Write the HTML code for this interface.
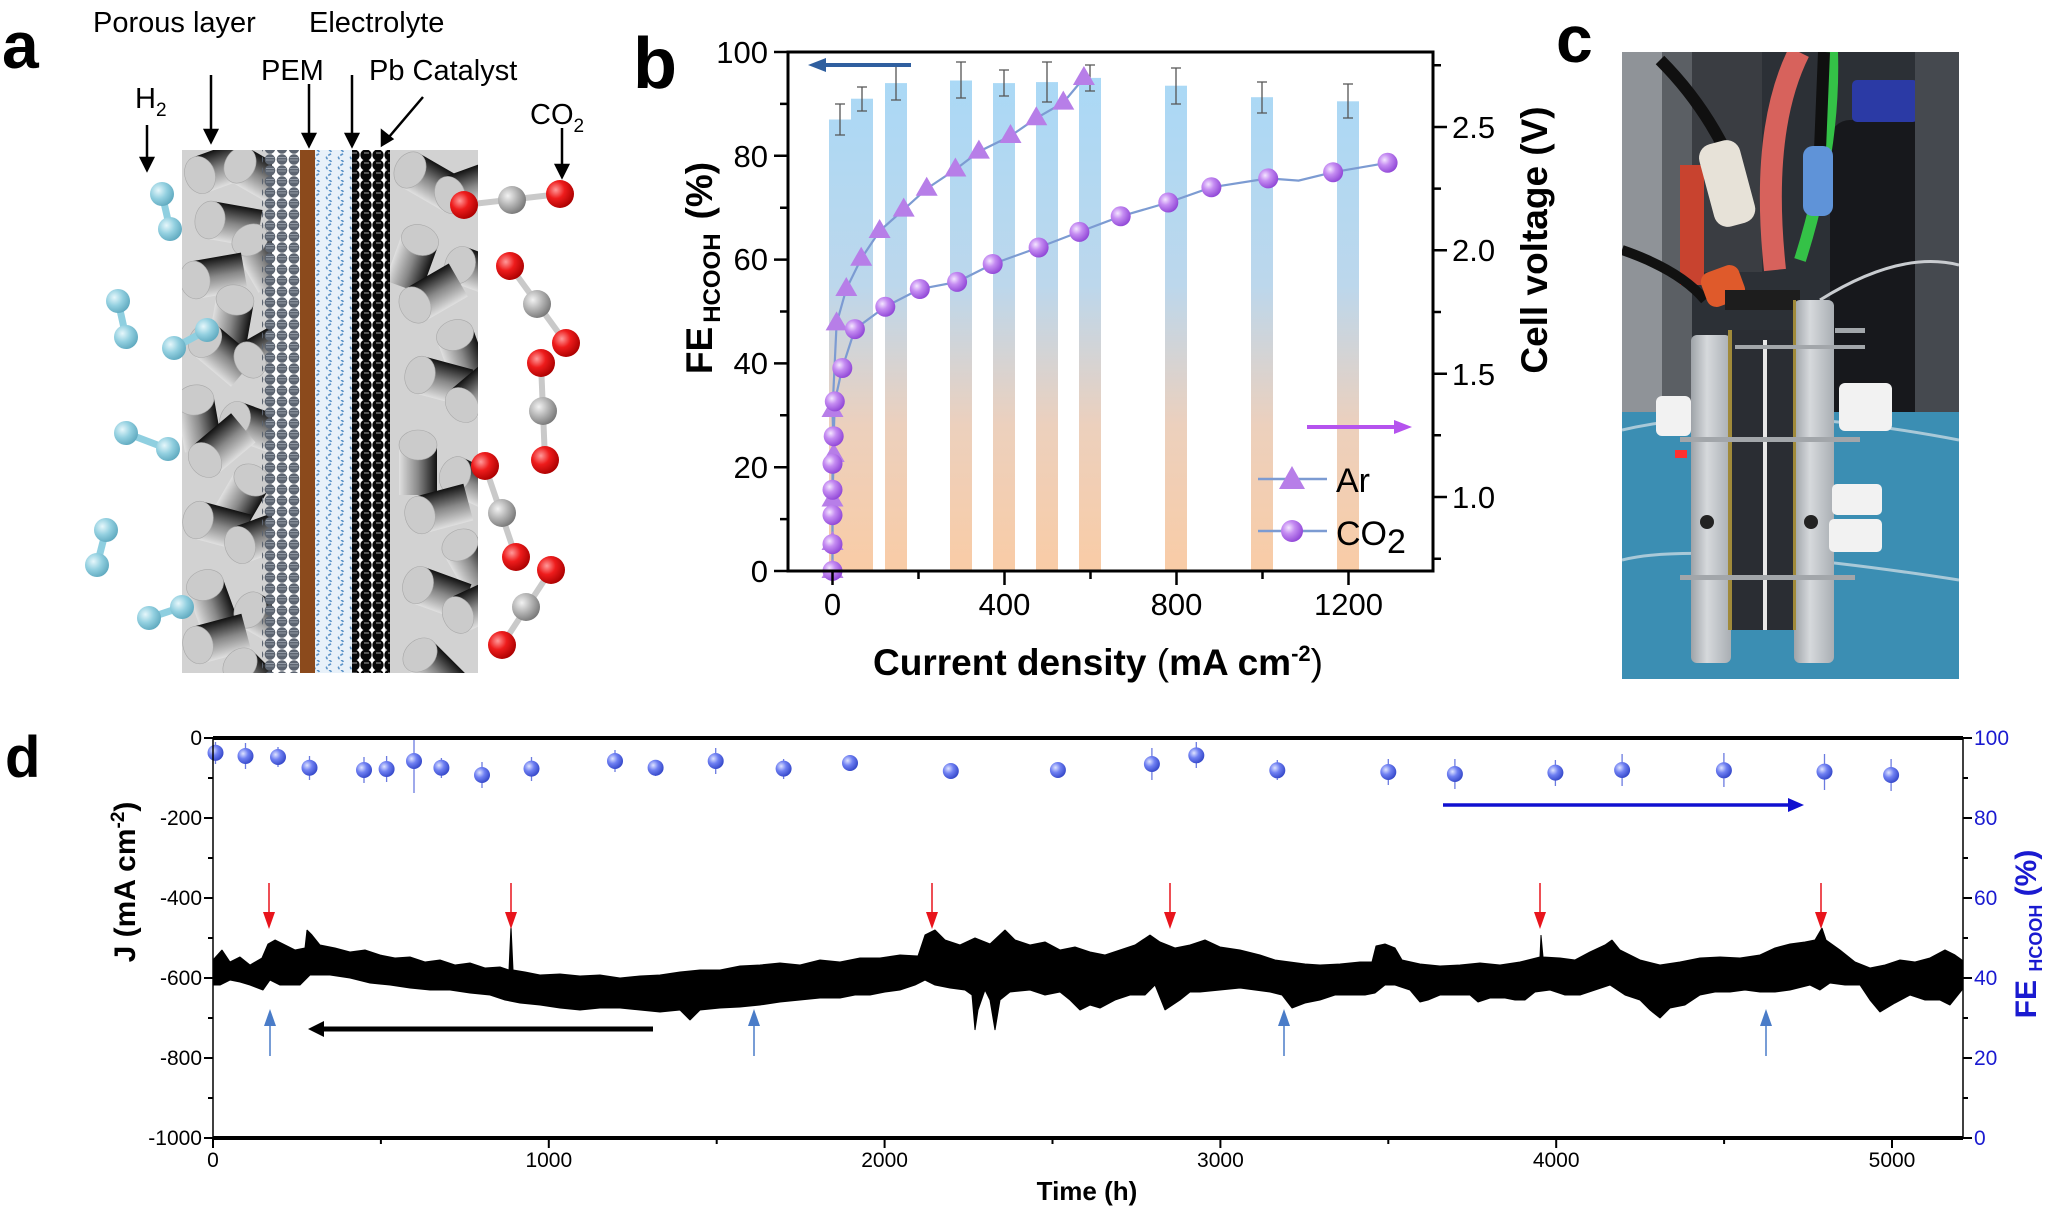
<!DOCTYPE html>
<html><head><meta charset="utf-8">
<style>
html,body{margin:0;padding:0;background:#fff;}
svg{display:block;font-family:"Liberation Sans",Arial,sans-serif;}
</style></head>
<body>
<svg xmlns="http://www.w3.org/2000/svg" xmlns:xlink="http://www.w3.org/1999/xlink" width="2048" height="1217" viewBox="0 0 2048 1217">
<defs>
 <linearGradient id="barg" gradientUnits="userSpaceOnUse" x1="0" y1="52" x2="0" y2="571">
  <stop offset="0" stop-color="#a8d9f7"/><stop offset="0.45" stop-color="#bcd7ec"/>
  <stop offset="0.72" stop-color="#ecd0bd"/><stop offset="1" stop-color="#f9cca6"/>
 </linearGradient>
 <radialGradient id="purp" cx="0.35" cy="0.35" r="0.7">
  <stop offset="0" stop-color="#f4e6ff"/><stop offset="0.4" stop-color="#c58cf2"/><stop offset="1" stop-color="#8f45d6"/>
 </radialGradient>
 <radialGradient id="bluesph" cx="0.35" cy="0.35" r="0.7">
  <stop offset="0" stop-color="#dfe4ff"/><stop offset="0.45" stop-color="#6f80f2"/><stop offset="1" stop-color="#3346c8"/>
 </radialGradient>
 <radialGradient id="h2" cx="0.35" cy="0.35" r="0.7">
  <stop offset="0" stop-color="#e6f7fb"/><stop offset="0.5" stop-color="#93d0e0"/><stop offset="1" stop-color="#5fa9bf"/>
 </radialGradient>
 <radialGradient id="ored" cx="0.35" cy="0.35" r="0.7">
  <stop offset="0" stop-color="#ff9a9a"/><stop offset="0.45" stop-color="#ee1c1c"/><stop offset="1" stop-color="#a00"/>
 </radialGradient>
 <radialGradient id="cgray" cx="0.35" cy="0.35" r="0.7">
  <stop offset="0" stop-color="#f2f2f2"/><stop offset="0.5" stop-color="#b4b4b4"/><stop offset="1" stop-color="#777"/>
 </radialGradient>
 <linearGradient id="cyl" x1="0" y1="0" x2="0" y2="1">
  <stop offset="0" stop-color="#111"/><stop offset="0.5" stop-color="#888"/><stop offset="1" stop-color="#e0e0e0"/>
 </linearGradient>
 <linearGradient id="plate" x1="0" y1="0" x2="1" y2="0">
  <stop offset="0" stop-color="#9ea3a8"/><stop offset="0.4" stop-color="#d6d9dc"/><stop offset="1" stop-color="#a9aeb3"/>
 </linearGradient>
 <pattern id="gdots" width="12" height="11" patternUnits="userSpaceOnUse">
  <circle cx="6" cy="5.5" r="5.3" fill="#5c6470"/><line x1="2" y1="6" x2="10" y2="6" stroke="#a0a8b2" stroke-width="0.8"/><line x1="2" y1="3.5" x2="10" y2="3.5" stroke="#a0a8b2" stroke-width="0.8"/>
 </pattern>
 <pattern id="bdots" width="12" height="10" patternUnits="userSpaceOnUse">
  <circle cx="6" cy="5" r="5.6" fill="#080808"/><line x1="4" y1="3" x2="9" y2="3" stroke="#ccc" stroke-width="0.8"/>
 </pattern>
 <pattern id="waves" width="12" height="10" patternUnits="userSpaceOnUse">
  <rect width="12" height="10" fill="#e8f1f9"/>
  <path d="M5,0 q5,2.5 0,5 q-5,2.5 0,5" fill="none" stroke="#5b93c8" stroke-width="1.6" stroke-dasharray="3,2"/>
 </pattern>
 <g id="cy">
  <rect x="0" y="-19" width="50" height="38" fill="url(#cyl)"/>
  <ellipse cx="0" cy="0" rx="15" ry="19" fill="#cbcbcb" stroke="#a8a8a8" stroke-width="0.6"/>
 </g>
 <clipPath id="photoclip"><rect x="1622" y="52" width="337" height="627"/></clipPath>
 <clipPath id="lclip"><rect x="182" y="150" width="90" height="523"/></clipPath>
 <clipPath id="rclip"><rect x="385" y="150" width="93" height="523"/></clipPath>
</defs>

<!-- ============ PANEL A ============ -->
<text x="2" y="68" font-size="66" font-weight="bold">a</text>
<g font-size="29">
 <text x="93" y="32">Porous layer</text>
 <text x="309" y="32">Electrolyte</text>
 <text x="261" y="80">PEM</text>
 <text x="369" y="80">Pb Catalyst</text>
 <text x="135" y="108">H<tspan font-size="19" dy="8">2</tspan></text>
 <text x="530" y="124">CO<tspan font-size="19" dy="8">2</tspan></text>
</g>
<g stroke="#000" stroke-width="2.5" fill="#000">
 <line x1="147" y1="125" x2="147" y2="162"/><path d="M141,158 L153,158 L147,170 z"/>
 <line x1="211" y1="75" x2="211" y2="134"/><path d="M205,130 L217,130 L211,142 z"/>
 <line x1="309" y1="84" x2="309" y2="138"/><path d="M303,134 L315,134 L309,146 z"/>
 <line x1="352" y1="75" x2="352" y2="138"/><path d="M346,134 L358,134 L352,146 z"/>
 <line x1="423" y1="97" x2="389" y2="137"/><path d="M382,131 L392,139 L382,145 z"/>
 <line x1="562" y1="128" x2="562" y2="169"/><path d="M556,165 L568,165 L562,177 z"/>
</g>
<g clip-path="url(#lclip)">
 <rect x="182" y="150" width="90" height="523" fill="#d2d2d2"/>
 <use xlink:href="#cy" transform="translate(200,175) rotate(-20)"/>
 <use xlink:href="#cy" transform="translate(240,165) rotate(30)"/>
 <use xlink:href="#cy" transform="translate(210,220) rotate(10)"/>
 <use xlink:href="#cy" transform="translate(250,240) rotate(60)"/>
 <use xlink:href="#cy" transform="translate(195,280) rotate(-10)"/>
 <use xlink:href="#cy" transform="translate(235,300) rotate(100)"/>
 <use xlink:href="#cy" transform="translate(205,340) rotate(40)"/>
 <use xlink:href="#cy" transform="translate(250,360) rotate(-30)"/>
 <use xlink:href="#cy" transform="translate(195,400) rotate(80)"/>
 <use xlink:href="#cy" transform="translate(235,420) rotate(20)"/>
 <use xlink:href="#cy" transform="translate(205,460) rotate(-40)"/>
 <use xlink:href="#cy" transform="translate(252,480) rotate(120)"/>
 <use xlink:href="#cy" transform="translate(198,520) rotate(15)"/>
 <use xlink:href="#cy" transform="translate(240,545) rotate(-20)"/>
 <use xlink:href="#cy" transform="translate(205,585) rotate(70)"/>
 <use xlink:href="#cy" transform="translate(250,610) rotate(30)"/>
 <use xlink:href="#cy" transform="translate(198,645) rotate(-15)"/>
 <use xlink:href="#cy" transform="translate(240,665) rotate(45)"/>
</g>
<rect x="262" y="150" width="38" height="523" fill="url(#gdots)"/>
<rect x="300" y="150" width="15" height="523" fill="#8b4a1c"/>
<rect x="315" y="150" width="37" height="523" fill="url(#waves)"/>
<g clip-path="url(#rclip)">
 <rect x="385" y="150" width="93" height="523" fill="#d2d2d2"/>
 <use xlink:href="#cy" transform="translate(410,170) rotate(30)"/>
 <use xlink:href="#cy" transform="translate(450,195) rotate(-20)"/>
 <use xlink:href="#cy" transform="translate(420,240) rotate(110)"/>
 <use xlink:href="#cy" transform="translate(460,265) rotate(20)"/>
 <use xlink:href="#cy" transform="translate(415,305) rotate(-30)"/>
 <use xlink:href="#cy" transform="translate(455,335) rotate(70)"/>
 <use xlink:href="#cy" transform="translate(420,375) rotate(15)"/>
 <use xlink:href="#cy" transform="translate(462,405) rotate(-40)"/>
 <use xlink:href="#cy" transform="translate(418,445) rotate(90)"/>
 <use xlink:href="#cy" transform="translate(455,475) rotate(25)"/>
 <use xlink:href="#cy" transform="translate(420,515) rotate(-15)"/>
 <use xlink:href="#cy" transform="translate(460,545) rotate(60)"/>
 <use xlink:href="#cy" transform="translate(418,585) rotate(20)"/>
 <use xlink:href="#cy" transform="translate(458,615) rotate(-25)"/>
 <use xlink:href="#cy" transform="translate(420,655) rotate(45)"/>
</g>
<rect x="352" y="150" width="38" height="523" fill="url(#bdots)"/>
<g>
 <g stroke="#8fcfe0" stroke-width="7">
  <line x1="162" y1="194" x2="170" y2="229"/><line x1="118" y1="301" x2="126" y2="337"/><line x1="174" y1="348" x2="207" y2="330"/>
  <line x1="126" y1="433" x2="168" y2="449"/><line x1="106" y1="530" x2="97" y2="565"/><line x1="149" y1="618" x2="182" y2="607"/>
 </g>
 <g fill="url(#h2)">
  <circle cx="162" cy="194" r="12"/><circle cx="170" cy="229" r="12"/><circle cx="118" cy="301" r="12"/><circle cx="126" cy="337" r="12"/>
  <circle cx="174" cy="348" r="12"/><circle cx="207" cy="330" r="12"/><circle cx="126" cy="433" r="12"/><circle cx="168" cy="449" r="12"/>
  <circle cx="106" cy="530" r="12"/><circle cx="97" cy="565" r="12"/><circle cx="149" cy="618" r="12"/><circle cx="182" cy="607" r="12"/>
 </g>
 <g stroke="#c9c9c9" stroke-width="6">
  <line x1="464" y1="205" x2="560" y2="194"/><line x1="510" y1="266" x2="566" y2="343"/><line x1="541" y1="363" x2="545" y2="460"/>
  <line x1="485" y1="466" x2="516" y2="557"/><line x1="551" y1="570" x2="502" y2="645"/>
 </g>
 <g fill="url(#ored)">
  <circle cx="464" cy="205" r="14"/><circle cx="560" cy="194" r="14"/><circle cx="510" cy="266" r="14"/><circle cx="566" cy="343" r="14"/>
  <circle cx="541" cy="363" r="14"/><circle cx="545" cy="460" r="14"/><circle cx="485" cy="466" r="14"/><circle cx="516" cy="557" r="14"/>
  <circle cx="551" cy="570" r="14"/><circle cx="502" cy="645" r="14"/>
 </g>
 <g fill="url(#cgray)">
  <circle cx="512" cy="200" r="14"/><circle cx="537" cy="304" r="14"/><circle cx="543" cy="411" r="14"/><circle cx="502" cy="513" r="14"/><circle cx="526" cy="607" r="14"/>
 </g>
</g>

<!-- ============ PANEL B ============ -->
<text x="633" y="88" font-size="72" font-weight="bold">b</text>
<g fill="url(#barg)">
 <rect x="829" y="119.5" width="22" height="451.5"/>
 <rect x="851" y="98.7" width="22" height="472.3"/>
 <rect x="885" y="83.1" width="22" height="487.9"/>
 <rect x="950" y="80.5" width="22" height="490.5"/>
 <rect x="993" y="83.1" width="22" height="487.9"/>
 <rect x="1036" y="82.1" width="22" height="488.9"/>
 <rect x="1079" y="77.9" width="22" height="493.1"/>
 <rect x="1165" y="85.7" width="22" height="485.3"/>
 <rect x="1251" y="97.2" width="22" height="473.8"/>
 <rect x="1337" y="101.3" width="22" height="469.7"/>
</g>
<g stroke="#555" stroke-width="1.3" fill="none">
 <path d="M840,104 V135 M835,104 h10 M835,135 h10"/>
 <path d="M862,87 V111 M857,87 h10 M857,111 h10"/>
 <path d="M896,66 V100 M891,66 h10 M891,100 h10"/>
 <path d="M961,62 V98 M956,62 h10 M956,98 h10"/>
 <path d="M1004,70 V96 M999,70 h10 M999,96 h10"/>
 <path d="M1047,62 V102 M1042,62 h10 M1042,102 h10"/>
 <path d="M1090,65 V91 M1085,65 h10 M1085,91 h10"/>
 <path d="M1176,68 V104 M1171,68 h10 M1171,104 h10"/>
 <path d="M1262,82 V113 M1257,82 h10 M1257,113 h10"/>
 <path d="M1348,84 V118 M1343,84 h10 M1343,118 h10"/>
</g>
<g fill="none" stroke="#7c9bd2" stroke-width="2.2">
 <path d="M832.5,570.9 L832.5,543.2 L832.5,499.5 L833.7,454.9 L832.5,410.3 L836.6,323.4 L846.3,289 L861.2,258.7 L879.6,231 L903.7,209.6 L926.7,188.7 L955.4,169.5 L978.9,151.6 L1010.5,136 L1036.3,118.2 L1063.3,102.6 L1083.9,78"/>
 <path d="M832.5,570.9 L832.5,544.1 L832.5,515.1 L832.5,489.7 L832.5,463.8 L833.7,436.2 L834.8,401.4 L842.3,368 L854.9,329.1 L885.3,306.8 L919.8,289 L957.1,281.9 L992.7,264 L1038.6,247.5 L1079.4,231.9 L1120.7,216.3 L1168.3,202.5 L1211.4,187.3 L1268.2,178.4 L1298.6,180.6 L1333.1,172.2 L1387.6,162.8"/>
</g>
<g fill="#b77ee8">
 <path d="M832.5,559 l11,19 h-22 z"/><path d="M832.5,531 l11,19 h-22 z"/><path d="M832.5,487.5 l11,19 h-22 z"/>
 <path d="M833.7,443 l11,19 h-22 z"/><path d="M832.5,398 l11,19 h-22 z"/><path d="M836.6,311.4 l11,19 h-22 z"/>
 <path d="M846.3,277 l11,19 h-22 z"/><path d="M861.2,246.7 l11,19 h-22 z"/><path d="M879.6,219 l11,19 h-22 z"/>
 <path d="M903.7,197.6 l11,19 h-22 z"/><path d="M926.7,176.7 l11,19 h-22 z"/><path d="M955.4,157.5 l11,19 h-22 z"/>
 <path d="M978.9,139.6 l11,19 h-22 z"/><path d="M1010.5,124 l11,19 h-22 z"/><path d="M1036.3,106.2 l11,19 h-22 z"/>
 <path d="M1063.3,90.6 l11,19 h-22 z"/><path d="M1083.9,66 l11,19 h-22 z"/>
</g>
<g fill="url(#purp)">
 <circle cx="832.5" cy="570.9" r="10"/><circle cx="832.5" cy="544.1" r="10"/><circle cx="832.5" cy="515.1" r="10"/>
 <circle cx="832.5" cy="489.7" r="10"/><circle cx="832.5" cy="463.8" r="10"/><circle cx="833.7" cy="436.2" r="10"/>
 <circle cx="834.8" cy="401.4" r="10"/><circle cx="842.3" cy="368" r="10"/><circle cx="854.9" cy="329.1" r="10"/>
 <circle cx="885.3" cy="306.8" r="10"/><circle cx="919.8" cy="289" r="10"/><circle cx="957.1" cy="281.9" r="10"/>
 <circle cx="992.7" cy="264" r="10"/><circle cx="1038.6" cy="247.5" r="10"/><circle cx="1079.4" cy="231.9" r="10"/>
 <circle cx="1120.7" cy="216.3" r="10"/><circle cx="1168.3" cy="202.5" r="10"/><circle cx="1211.4" cy="187.3" r="10"/>
 <circle cx="1268.2" cy="178.4" r="10"/><circle cx="1333.1" cy="172.2" r="10"/><circle cx="1387.6" cy="162.8" r="10"/>
</g>
<rect x="788" y="52" width="645" height="519" fill="none" stroke="#000" stroke-width="3"/>
<g stroke="#000" stroke-width="2.5">
 <path d="M788,571 h-14 M788,519.1 h-8 M788,467.2 h-14 M788,415.3 h-8 M788,363.4 h-14 M788,311.5 h-8 M788,259.6 h-14 M788,207.7 h-8 M788,155.8 h-14 M788,103.9 h-8 M788,52 h-14"/>
 <path d="M832.5,571 v14 M918.5,571 v8 M1004.5,571 v14 M1090.5,571 v8 M1176.5,571 v14 M1262.5,571 v8 M1348.5,571 v14"/>
 <path d="M1433,558.7 h8 M1433,497 h14 M1433,435.3 h8 M1433,373.7 h14 M1433,312 h8 M1433,250.3 h14 M1433,188.6 h8 M1433,127 h14 M1433,65.3 h8"/>
</g>
<g font-size="31">
 <g text-anchor="end">
  <text x="768" y="582">0</text><text x="768" y="478">20</text><text x="768" y="374">40</text>
  <text x="768" y="270">60</text><text x="768" y="167">80</text><text x="768" y="63">100</text>
 </g>
 <g text-anchor="middle">
  <text x="832.5" y="615">0</text><text x="1004.5" y="615">400</text><text x="1176.5" y="615">800</text><text x="1348.5" y="615">1200</text>
 </g>
 <text x="1452" y="508">1.0</text><text x="1452" y="385">1.5</text><text x="1452" y="261">2.0</text><text x="1452" y="138">2.5</text>
</g>
<text transform="translate(712,268) rotate(-90)" text-anchor="middle" font-weight="bold" font-size="37">FE<tspan font-size="24" dx="4" dy="8">HCOOH</tspan><tspan dy="-8" dx="14">(%)</tspan></text>
<text transform="translate(1547,240) rotate(-90)" text-anchor="middle" font-weight="bold" font-size="37">Cell voltage (V)</text>
<text x="1098" y="675" text-anchor="middle" font-weight="bold" font-size="37">Current density <tspan font-weight="normal">(</tspan>mA cm<tspan font-size="22" dy="-14">-2</tspan><tspan dy="14" font-weight="normal">)</tspan></text>
<line x1="911" y1="65" x2="820" y2="65" stroke="#2f5f9f" stroke-width="4"/>
<path d="M808,65 L826,58 L826,72 z" fill="#2f5f9f"/>
<line x1="1307" y1="427" x2="1398" y2="427" stroke="#b553ee" stroke-width="4"/>
<path d="M1412,427 L1394,420 L1394,434 z" fill="#b553ee"/>
<line x1="1258" y1="479" x2="1327" y2="479" stroke="#7c9bd2" stroke-width="2.5"/>
<path d="M1292,466 L1305,489 L1279,489 z" fill="#b77ee8"/>
<text x="1336" y="492" font-size="34">Ar</text>
<line x1="1258" y1="531" x2="1327" y2="531" stroke="#7c9bd2" stroke-width="2.5"/>
<circle cx="1292" cy="531" r="11" fill="url(#purp)"/>
<text x="1336" y="545" font-size="34">CO<tspan dy="8">2</tspan></text>

<!-- ============ PANEL C ============ -->
<text x="1556" y="62" font-size="66" font-weight="bold">c</text>
<g clip-path="url(#photoclip)">
 <rect x="1622" y="52" width="337" height="627" fill="#2c3036"/>
 <rect x="1622" y="52" width="40" height="360" fill="#8f9398"/>
 <rect x="1662" y="52" width="30" height="360" fill="#5b5f64"/>
 <rect x="1692" y="52" width="70" height="220" fill="#3a3d42"/>
 <rect x="1830" y="120" width="125" height="300" rx="20" fill="#17181c"/>
 <rect x="1852" y="80" width="66" height="42" rx="5" fill="#2b3aa5"/>
 <rect x="1915" y="52" width="44" height="360" fill="#45494f"/>
 <rect x="1622" y="412" width="337" height="267" fill="#3b8eb3"/>
 <path d="M1622,430 Q1750,400 1959,440" stroke="#a9c9d8" stroke-width="3" fill="none"/>
 <path d="M1622,560 Q1700,540 1959,580" stroke="#a9c9d8" stroke-width="3" fill="none"/>
 <path d="M1820,300 Q1900,250 1959,265" stroke="#c9ccd0" stroke-width="3" fill="none"/>
 <rect x="1680" y="165" width="24" height="120" fill="#c8432f"/>
 <path d="M1799,52 Q1760,130 1775,270" stroke="#d7625c" stroke-width="22" fill="none"/>
 <path d="M1832,52 Q1835,150 1800,260" stroke="#34c247" stroke-width="12" fill="none"/>
 <path d="M1660,60 Q1700,100 1725,150" stroke="#101010" stroke-width="12" fill="none"/>
 <path d="M1824,52 L1820,150" stroke="#101010" stroke-width="12" fill="none"/>
 <path d="M1622,250 Q1680,270 1705,300" stroke="#111" stroke-width="10" fill="none"/>
 <rect x="1706" y="141" width="42" height="85" rx="14" fill="#e7e2d8" transform="rotate(-15 1727 183)"/>
 <rect x="1803" y="146" width="30" height="70" rx="10" fill="#5f93d8"/>
 <rect x="1703" y="268" width="40" height="36" rx="10" fill="#df5a2b" transform="rotate(-20 1723 286)"/>
 <rect x="1725" y="290" width="75" height="20" fill="#1d1d1d"/>
 <rect x="1731" y="330" width="63" height="300" fill="#2a2d33"/>
 <rect x="1763" y="340" width="4" height="290" fill="#e8e8e8"/>
 <rect x="1691" y="335" width="40" height="328" rx="6" fill="url(#plate)"/>
 <rect x="1794" y="300" width="40" height="363" rx="6" fill="url(#plate)"/>
 <rect x="1728" y="330" width="4" height="300" fill="#a08a3a"/>
 <rect x="1793" y="300" width="3" height="330" fill="#a08a3a"/>
 <circle cx="1707" cy="522" r="7" fill="#222"/>
 <circle cx="1811" cy="522" r="7" fill="#222"/>
 <g fill="#a2a6aa"><rect x="1680" y="437" width="180" height="5"/><rect x="1680" y="575" width="175" height="5"/><rect x="1735" y="345" width="130" height="4"/><rect x="1835" y="328" width="30" height="5"/></g>
 <g fill="#f2f2f2"><rect x="1839" y="383" width="53" height="48" rx="6"/><rect x="1832" y="484" width="50" height="31" rx="5"/><rect x="1829" y="519" width="53" height="33" rx="5"/><rect x="1656" y="396" width="35" height="40" rx="6"/></g>
 <rect x="1675" y="450" width="12" height="8" fill="#ff3030"/>
</g>

<!-- ============ PANEL D ============ -->
<text x="5" y="777" font-size="58" font-weight="bold">d</text>
<polygon fill="#000" stroke="#000" stroke-width="1" stroke-linejoin="bevel" points="213,960 222,950 230,962 240,957 250,965 262,958 268,944 275,940 285,945 295,950 305,948 307,930 312,935 320,945 335,948 350,952 365,950 380,955 395,958 410,957 425,962 440,960 455,965 470,963 485,968 500,967 509,970 511,926 513,970 525,972 540,975 560,974 580,976 600,975 620,978 640,976 660,975 680,972 700,970 720,970 740,966 760,965 780,963 800,965 820,960 840,962 860,958 880,958 900,955 918,956 925,935 935,930 945,940 960,945 975,938 990,944 1005,930 1015,940 1030,945 1045,942 1060,950 1075,947 1090,952 1105,955 1120,950 1135,945 1150,935 1160,942 1175,948 1190,945 1205,940 1220,947 1240,950 1260,955 1275,960 1290,962 1305,964 1320,965 1340,964 1360,962 1372,962 1376,946 1385,944 1395,948 1402,960 1420,964 1440,966 1460,965 1480,963 1500,965 1520,962 1540,957 1541,935 1543,957 1560,958 1575,960 1590,952 1605,945 1612,940 1620,950 1640,960 1660,965 1680,962 1700,958 1720,957 1740,958 1760,955 1775,948 1790,944 1805,942 1815,940 1822,928 1826,940 1840,950 1855,962 1870,968 1885,965 1900,960 1915,962 1930,958 1945,950 1955,955 1962,960 1962,990 1950,1005 1940,1000 1925,1000 1910,995 1895,1003 1880,1012 1870,1000 1860,985 1845,985 1830,983 1820,990 1810,985 1790,990 1775,992 1760,992 1745,990 1730,992 1715,992 1700,995 1685,1005 1670,1008 1660,1018 1650,1010 1640,1000 1625,995 1610,985 1595,990 1580,995 1565,995 1550,990 1535,992 1525,1000 1515,1000 1505,998 1490,998 1478,1002 1470,995 1455,995 1440,995 1428,1000 1420,1002 1410,990 1395,985 1385,985 1375,993 1365,995 1350,995 1335,995 1320,1000 1305,1003 1292,1008 1282,995 1270,992 1255,990 1240,988 1220,990 1200,992 1190,992 1180,1000 1165,1010 1155,985 1145,995 1130,995 1115,1000 1100,1008 1090,1005 1080,1010 1070,1000 1060,992 1045,995 1030,990 1010,992 1000,1000 995,1030 990,1000 985,990 978,1010 975,1030 972,995 965,990 950,988 935,985 925,980 915,985 900,990 885,992 870,995 855,995 840,998 820,998 800,1000 780,1002 760,1005 740,1007 720,1008 700,1010 690,1020 680,1010 660,1012 640,1010 620,1008 600,1008 580,1010 560,1008 540,1005 520,1003 505,1000 490,995 470,993 450,990 430,990 410,988 390,985 370,983 350,978 330,975 310,975 300,985 290,985 280,985 270,980 263,990 250,985 240,982 230,980 220,985 213,985"/>
<g stroke="#6b7be0" stroke-width="1.3" fill="none">
 <path d="M215.5,742 V764 M245.5,743 V769 M278,747 V767 M309.5,756 V780 M364,757 V783 M386.6,756 V782 M414,738 V793 M441.4,758 V778 M482,762 V788 M531.5,757 V781 M615,750 V772 M655.6,760 V776 M715.7,748 V774 M783.6,759 V779 M850,755 V771 M950.8,765 V777 M1057.9,764 V776 M1151.9,748 V780 M1196.3,742 V768 M1277.3,760 V780 M1388.3,759 V785 M1454.9,759 V789 M1555.4,760 V786 M1622.1,754 V786 M1723.9,753 V787 M1824.5,754 V790 M1891.1,759 V791"/>
</g>
<g fill="url(#bluesph)">
 <circle cx="215.5" cy="752.8" r="8"/><circle cx="245.5" cy="756" r="8"/><circle cx="278" cy="757" r="8"/><circle cx="309.5" cy="767.7" r="8"/>
 <circle cx="364" cy="770" r="8"/><circle cx="386.6" cy="769" r="8"/><circle cx="414" cy="761" r="8"/><circle cx="441.4" cy="767.7" r="8"/>
 <circle cx="482" cy="775" r="8"/><circle cx="531.5" cy="768.6" r="8"/><circle cx="615" cy="761" r="8"/><circle cx="655.6" cy="767.7" r="8"/>
 <circle cx="715.7" cy="761" r="8"/><circle cx="783.6" cy="768.6" r="8"/><circle cx="850" cy="763" r="8"/><circle cx="950.8" cy="771" r="8"/>
 <circle cx="1057.9" cy="770" r="8"/><circle cx="1151.9" cy="764" r="8"/><circle cx="1196.3" cy="755.4" r="8"/><circle cx="1277.3" cy="770.3" r="8"/>
 <circle cx="1388.3" cy="772" r="8"/><circle cx="1454.9" cy="774" r="8"/><circle cx="1555.4" cy="772.6" r="8"/><circle cx="1622.1" cy="770" r="8"/>
 <circle cx="1723.9" cy="770.3" r="8"/><circle cx="1824.5" cy="771.6" r="8"/><circle cx="1891.1" cy="775" r="8"/>
</g>
<line x1="213" y1="738" x2="1963" y2="738" stroke="#000" stroke-width="4"/>
<line x1="213" y1="1138" x2="1963" y2="1138" stroke="#000" stroke-width="4"/>
<line x1="213" y1="738" x2="213" y2="1138" stroke="#000" stroke-width="1.5"/>
<line x1="1963" y1="738" x2="1963" y2="1138" stroke="#000" stroke-width="1.5"/>
<g stroke="#000" stroke-width="2">
 <path d="M213,1138 v10 M380.9,1138 v6 M548.8,1138 v10 M716.7,1138 v6 M884.6,1138 v10 M1052.5,1138 v6 M1220.4,1138 v10 M1388.3,1138 v6 M1556.2,1138 v10 M1724.1,1138 v6 M1892,1138 v10"/>
 <path d="M213,738 h-9 M213,778 h-5 M213,818 h-9 M213,858 h-5 M213,898 h-9 M213,938 h-5 M213,978 h-9 M213,1018 h-5 M213,1058 h-9 M213,1098 h-5 M213,1138 h-9"/>
 <path d="M1963,738 h9 M1963,778 h5 M1963,818 h9 M1963,858 h5 M1963,898 h9 M1963,938 h5 M1963,978 h9 M1963,1018 h5 M1963,1058 h9 M1963,1098 h5 M1963,1138 h9"/>
</g>
<g font-size="21">
 <g text-anchor="middle">
  <text x="213" y="1167">0</text><text x="548.8" y="1167">1000</text><text x="884.6" y="1167">2000</text>
  <text x="1220.4" y="1167">3000</text><text x="1556.2" y="1167">4000</text><text x="1892" y="1167">5000</text>
 </g>
 <g text-anchor="end">
  <text x="202" y="745">0</text><text x="202" y="825">-200</text><text x="202" y="905">-400</text>
  <text x="202" y="985">-600</text><text x="202" y="1065">-800</text><text x="202" y="1145">-1000</text>
 </g>
 <g fill="#1a1ad0">
  <text x="1974" y="745">100</text><text x="1974" y="825">80</text><text x="1974" y="905">60</text>
  <text x="1974" y="985">40</text><text x="1974" y="1065">20</text><text x="1974" y="1145">0</text>
 </g>
</g>
<text transform="translate(135,882) rotate(-90)" text-anchor="middle" font-weight="bold" font-size="30">J (mA cm<tspan font-size="19" dy="-11">-2</tspan><tspan dy="11">)</tspan></text>
<text transform="translate(2036,934) rotate(-90)" text-anchor="middle" font-weight="bold" font-size="30" fill="#1a1ad0">FE <tspan font-size="18" dy="6">HCOOH</tspan><tspan dy="-6"> (%)</tspan></text>
<text x="1087" y="1200" text-anchor="middle" font-weight="bold" font-size="26">Time (h)</text>
<g stroke="#e8141c" stroke-width="1.5">
 <line x1="269" y1="883" x2="269" y2="915"/><line x1="511" y1="883" x2="511" y2="915"/><line x1="932" y1="883" x2="932" y2="915"/>
 <line x1="1170" y1="883" x2="1170" y2="915"/><line x1="1540" y1="883" x2="1540" y2="915"/><line x1="1821" y1="883" x2="1821" y2="915"/>
</g>
<g fill="#e8141c">
 <path d="M263,912 h12 l-6,17 z"/><path d="M505,912 h12 l-6,17 z"/><path d="M926,912 h12 l-6,17 z"/>
 <path d="M1164,912 h12 l-6,17 z"/><path d="M1534,912 h12 l-6,17 z"/><path d="M1815,912 h12 l-6,17 z"/>
</g>
<g stroke="#4a7cc8" stroke-width="1.5">
 <line x1="270" y1="1056" x2="270" y2="1022"/><line x1="754" y1="1056" x2="754" y2="1022"/>
 <line x1="1284" y1="1056" x2="1284" y2="1022"/><line x1="1766" y1="1056" x2="1766" y2="1022"/>
</g>
<g fill="#4a7cc8">
 <path d="M264,1026 h12 l-6,-17 z"/><path d="M748,1026 h12 l-6,-17 z"/><path d="M1278,1026 h12 l-6,-17 z"/><path d="M1760,1026 h12 l-6,-17 z"/>
</g>
<line x1="653" y1="1029" x2="322" y2="1029" stroke="#000" stroke-width="5"/>
<path d="M308,1029 L324,1021 L324,1037 z" fill="#000"/>
<line x1="1443" y1="805" x2="1790" y2="805" stroke="#1010d0" stroke-width="3.5"/>
<path d="M1804,805 L1788,798 L1788,812 z" fill="#1010d0"/>
</svg>
</body></html>
